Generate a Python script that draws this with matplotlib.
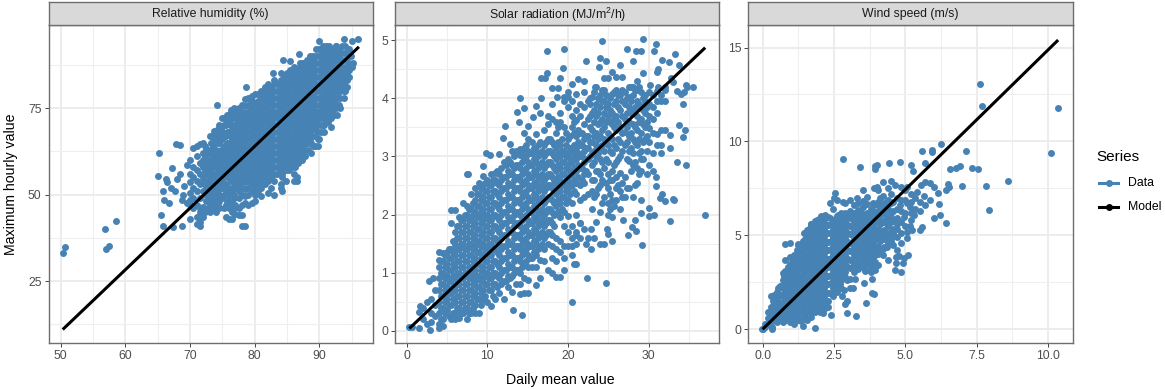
import matplotlib
matplotlib.use("Agg")
import matplotlib.pyplot as plt
from matplotlib.lines import Line2D

plt.rcParams['font.family'] = ['Liberation Sans', 'DejaVu Sans']
plt.rcParams['mathtext.fontset'] = 'custom'
plt.rcParams['mathtext.rm'] = 'Liberation Sans'
plt.rcParams['mathtext.default'] = 'regular'

W, H = 1165, 389
BLUE = '#4682B4'

panel_titles = ['Relative humidity (%)', 'Solar radiation (MJ/m$^{2}$/h)', 'Wind speed (m/s)']
series_names = ['Data', 'Model']

# ---------- Relative humidity: isolated points + columns (x, ys)
rh_points = [(50.3,33),(50.6,34.7),(56.8,40),(57,34.2),(57.4,35),(58.5,42.5),(65.2,62),(65,55.4),(65.5,44),
(65.8,41),(65.8,51),(66,48.5),(66.7,47.5),(66.2,54.5),(66.5,53.7),(67,52),(67.2,57.8),(67.3,40.5),(67.7,51),
(67.8,64.5),(68.5,64.3),(68,54.5),(68.5,56),(68.8,41),(68.8,48.5),(69,52.5),(69.5,58.5),(69.5,47.5),(68.9,50),
(74.1,76),(78.6,81),(84.3,89),(85.5,88.7),(81.5,80),(82.8,85),(83,83),(89.9,94.5),(93.8,95),(95,94.5),(96,95),
(94.9,90),(95.2,88),(95.1,87),(92.5,93),(91,93),(86.9,90.5),(87.5,88)]
rh_col_x = [70,70.5,71,71.5,72,72.5,73,73.5,74,74.5,75,75.5,76,76.5,77,77.5,78,78.5,79,79.5,80,80.5,81,81.5,
82,82.5,83,83.5,84,84.5,85,85.5,86,86.5,87,87.5,88,88.5,89,89.5,90,90.5,91,91.5,92,92.5,93,93.5,94,94.5]
rh_col_y = [
[43,47,48.5,50.5,53.5,56,60],[46,49,52,55,58,63.5],[41.5,43.5,47,51,54,57,61,64],[41,42,45,46,49,53,56,59,64.5],
[43.5,46.5,51,54.5,58,60,62,65],[48,50,52,56,59.5,61.5,63],[45,47,49,53,55,57,60,62,67],[46,48,51,54,58,61,64,67],
[45,49,52,55,58,60,63,66,68],[46,48,50,53,56,59,61,65,67,70],[49,52,54,57,60,63,66,68,72],[43.5,47,51,53,56,59,62,64,67,70],
[43,46,50,52,55,58,61,63,65,68,71,73],[43,45,48,51,54,57,60,62,64,66,69,72,74],[44.5,47,52,54,56,58,60,62,64,66,68,70,72,74],
[44,46,49,51,53,55,57,59,61,63,65,67,69,71,73,75],[41,44,47,50,52,54,56,58,60,62,64,66,68,70,72,74,76],
[41,47.5,49.5,51.5,53.5,55.5,57.5,59.5,61.5,63.5,65.5,67.5,69.5,71.5,73.5,75.5,77.5],
[47,50,52,54,56,58,60,62,64,66,68,70,72,74,76,78],[47.5,51,53,55,57,59,61,63,65,67,69,71,73,75,77,78.5],
[48,50,52,54,56,58,60,62,64,66,68,70,72,74,76,79],[51,53,55,57,59,61,63,65,67,69,71,73,75,77,79],
[49.5,52,54,56,58,60,62,64,66,68,70,72,74,76,78,80],[53,55,57,59,61,63,65,67,69,71,73,75,77,79,81],
[50.5,54,56,58,60,62,64,66,68,70,72,74,76,78,80,82],[52,55,57,59,61,63,65,67,69,71,73,75,77,79,81],
[50,54,56,58,60,62,64,66,68,70,72,74,76,78,80,82],[56,58,60,62,64,66,68,70,72,74,76,78,80,82],
[52,53,57,59,61,63,65,67,69,71,73,75,77,79,81,83,85],[57,60,62,64,66,68,70,72,74,76,78,80,82,84],
[58,59,61,63,65,67,69,71,73,75,77,79,81,83,85],[60,62,64,66,68,70,72,74,76,78,80,82,84,86],
[54,56,60,63,65,67,69,71,73,75,77,79,81,83,85,87],[54,55,61,64,66,68,70,72,74,76,78,80,82,84,86],
[63,65,67,69,71,73,75,77,79,81,83,85,87,88],[63,66,68,70,72,74,76,78,80,82,84,86,88],
[65,67,69,71,73,75,77,79,81,83,85,87,89],[66,68,70,72,74,76,78,80,82,84,86,88,90],
[64,69,71,73,75,77,79,81,83,85,87,89,90],[71,72,74,76,78,80,82,84,86,88,90,92],
[66,72,74,76,78,80,82,84,86,88,90,92],[70,75,77,79,81,83,85,87,89,91,93],
[71,74,76,78,80,82,84,86,88,90,92],[72,77,79,81,83,85,87,89,91,93],
[74,78,80,82,84,86,88,90,92],[75,79,81,83,85,87,89,91,93],
[76,80,82,84,86,88,90,92],[81,83,85,87,89,91,93],[80,83,85,87,89,91,93],[84,86,88,90,92]]
# second reading of the humidity cloud's lower-left and lower-right parts
rh_fill_x = [72.25,72.75,73.25,73.75,74.25,74.75,75.25,75.75,76.25,76.75,84.25,84.75,85.25,85.75,86.25,86.75,87.25,87.75,88.25,88.75,
89.25,89.75,90.25,90.75,91.25,91.75,92.25,92.75,93.25,93.75,94.25]
rh_fill_y = [
[45,53,57,61,64],[46,51,54,58,63],[50,52,56,59,63,65],[47,50,53,56,60,63,66,68.5],[47,51,54,57,59,62,65,67,69],[49,52,55,58,60,63,66,69],
[46,50,53,56,58,61,64,67,70,72],[48,52,55,57,60,63,65,68,71,73],[47,49,51,54,56,59,62,64,67,70,72,74.5],[46,49,50,53,55,57,59,61,63,65,67,70,73,75],
[51,55,56,58,60,62],[54,57,59,61,63],[57,58.5,60.5,62.5],[58,59,61,63,65],[58,60,62,64,66],[59,61,63,65,67],[60,62,64,66,68],[61,63,65,67,69],
[63,65,67,69],[62,65,67,69,71],[64,67,69,71,73],[64,66,68,70,72,74],[68,70,72,74,76],[68,70,72,74,76,78],[71,73,75,77,79],[69.5,72,74,76,78,80],
[73,75,77,79],[73,76,78,80],[75,78,80,82],[78,80,82,84],[81,83,85]]
rh_model_x = [50.3, 96.1]
rh_model_y = [11.0, 92.7]

# ---------- Solar radiation
sr_points = [(20.5,.5),(24.7,.83),(22.4,.9),(13.2,.36),(14.3,.27),(37,2),(32.7,1.88),(29.2,1.48),(27.4,1.64),(25.4,1.55),
(29.3,5.02),(24.2,4.98),(30.9,4.93),(17.4,4.82),(19.5,4.85),(27.3,4.85),(28.4,4.82),(29.1,4.82),(30.6,4.81),(33.2,4.76),
(24,4.7),(24.7,4.64),(22.2,4.64),(28,4.64),(31.6,4.66),(32.5,4.63),(33.7,4.57),(26.4,4.57),(19.4,4.52),(17.4,4.44),(29.3,4.44),
(31.2,4.5),(31,4.46),(35.5,4.2),(34.6,4.23),(34.2,3.9),(33.8,3.54),(34.5,3.45),(34.2,3.33),(34.6,2.86),(33.5,2.9),(32.7,3.15),
(32.6,3.37),(33.1,2.25),(33,2.27),(32,2.24),(31.6,2.36),(31.4,2.28),(30.9,2.65),(30.9,2.49),(30,2.12),(30.7,2),(30,1.98),(29,2.02),
(28.3,1.9),(27.9,1.79),(28.4,1.72),(26.8,1.9),(0.3,.07),(0.7,.07),(1.5,.05),(1.5,.33),(1.6,.43),(2,.2),(2,.4),(2.5,.12),(2.5,.5),
(2.9,.02),(3,.15),(3,.3),(3,.55),(2.8,.85),(3.5,.25),(3.5,.45),(3.5,.7),(3.3,.9),(14,4),(14.5,3.83),(13.7,3.77),(13.9,3.6),(12.2,3.52),
(11.9,3.32),(12.8,3.22),(9.8,3.05),(10.3,3.02),(9.5,2.83),(7.6,2.7),(16.7,4.34),(17.2,4.34),(16.6,4),(16,3.86),(15.7,3.68),(16.5,3.74),
(18,4.17),(18.7,4.17),(18.6,4.03),(19,4.34),(19.5,4.03),(20,4.1),(20.5,4.25),(21.2,4.33),(22,4.3),(23.4,4.2),(23.8,4.53),(24.5,4.35),
(25,4.35),(25.5,4.45),(26,4.37),(26.7,4.36),(28.5,4.3),(31.2,4.2),(30.2,4.23),(32,4.2),(32.8,4.35),(33,4.28),(33.5,4.12),(34,4.08),(34.4,4.1),(34.8,4.2),
(22.2,1.5),(22.8,1.4),(23.2,1.6),(24,1.5),(24.5,1.5),(24.8,1.75),(25,1.66),(23.5,1.87),(22.8,1.75),(21.5,1.85),(21,1.65),(20.5,1.45),(20.8,1.15),(21,1.15)]
sr_col_x = [4,4.5,5,5.5,6,6.5,7,7.5,8,8.5,9,9.5,10,10.5,11,11.5,12,12.5,13,13.5,14,14.5,15,15.5,16,16.5,17,17.5,18,18.5,19,19.5,20,20.5,21,21.5,22,22.5,23,23.5,24,24.5,25,25.5,26,26.5,27,27.5,28,28.5,29,29.5,30,30.5,31,31.5,32]
sr_col_y = [
[.05,.12,.3,.5,.7,.9,1.1,1.22,1.35],[.08,.2,.4,.6,.8,1,1.2,1.33],[.35,.55,.75,.95,1.15,1.35],[.2,.45,.65,.85,1.05,1.25,1.4,1.85,2.08],
[.2,.3,.5,.7,.9,1.1,1.3,1.5,1.7,2.08],[.22,.4,.6,.8,1,1.2,1.4,1.6,1.8,1.95],[.3,.5,.7,.9,1.1,1.3,1.5,1.7,1.9,2.2],
[.2,.4,.6,.8,1,1.2,1.4,1.6,1.8,2,2.15,2.7],[.3,.5,.7,.9,1.1,1.3,1.5,1.7,1.9,2.1,2.35],[.3,.45,.65,.85,1.05,1.25,1.45,1.65,1.85,2.05,2.25,2.45],
[.3,.55,.75,.95,1.15,1.35,1.55,1.75,1.95,2.15,2.35,2.55],[.55,.7,.9,1.1,1.3,1.5,1.7,1.9,2.1,2.3,2.5,2.67],
[.5,.8,1,1.2,1.4,1.6,1.8,2,2.2,2.4,2.6],[.43,.7,.9,1.1,1.3,1.5,1.7,1.9,2.1,2.3,2.5,2.7],[.55,.8,1,1.2,1.4,1.6,1.8,2,2.2,2.4,2.6,2.72],
[.65,.9,1.1,1.3,1.5,1.7,1.9,2.1,2.3,2.5,2.7,3.04],[.55,.85,1.05,1.25,1.45,1.65,1.85,2.05,2.25,2.45,2.65,2.9],
[.75,.95,1.15,1.35,1.55,1.75,1.95,2.15,2.35,2.55,2.75,2.95],[.67,.95,1.1,1.3,1.5,1.7,1.9,2.1,2.3,2.5,2.7,2.85,3.1],
[.8,1.05,1.25,1.45,1.65,1.85,2.05,2.25,2.45,2.65,2.85,3.1],[.63,.8,1,1.2,1.4,1.6,1.8,2,2.2,2.4,2.6,2.8,3.02,3.13],
[.65,.9,1.15,1.35,1.55,1.75,1.95,2.15,2.35,2.55,2.75,2.95,3.15,3.4],[.65,.88,1.1,1.3,1.5,1.7,1.9,2.1,2.3,2.5,2.7,2.9,3.1,3.3,3.52],
[1.1,1.25,1.45,1.65,1.85,2.05,2.25,2.45,2.65,2.85,3.05,3.25],[.78,1.1,1.3,1.5,1.7,1.9,2.1,2.3,2.5,2.7,2.9,3.1,3.38],
[.9,1.22,1.45,1.65,1.85,2.05,2.25,2.45,2.65,2.85,3.05,3.25],[1.2,1.4,1.6,1.8,2,2.2,2.4,2.6,2.8,3,3.2,3.45],
[1.05,1.5,1.7,1.9,2.1,2.3,2.5,2.7,2.9,3.1,3.3,3.55,3.7],[1,1.25,1.45,1.65,1.85,2.05,2.25,2.45,2.65,2.85,3.05,3.25,3.65,3.9],
[.92,1.2,1.4,1.6,2.15,2.35,2.55,2.75,2.95,3.15,3.4,3.6],[.92,1.35,1.55,1.95,2.2,2.4,2.6,2.8,3,3.2,3.6,3.75],
[1.05,1.25,1.45,1.8,2.05,2.3,2.5,2.7,2.9,3.1,3.5,3.95],[1.45,1.7,1.98,2.25,2.45,2.65,2.85,3.05,3.3,3.85,4.02],
[1.3,1.6,1.8,2.2,2.5,2.7,2.9,3.1,3.5,3.7,3.95],[1.5,1.7,2,2.35,2.55,2.75,2.95,3.15,3.35,3.62,3.8,4.08],
[1.6,1.85,2.25,2.5,2.8,3,3.2,3.4,3.7,3.9],[1.75,2.3,2.55,2.7,2.9,3.1,3.3,3.55,3.85,4.1],
[1.6,2.35,2.7,2.95,3.15,3.35,3.65,3.95],[2.1,2.4,2.6,2.85,3.05,3.25,3.45,3.75,4.02],[2.35,2.75,3,3.2,3.4,3.7,3.9,4.2],
[2.05,2.5,2.7,2.95,3.15,3.35,3.6,3.85,4.05],[2.3,2.8,3.1,3.3,3.5,3.75,3.95,4.15],[2,2.2,2.45,2.7,2.9,3.2,3.4,3.7,3.9],
[1.95,2.25,2.6,2.75,3.05,3.3,3.55,3.75,4.07],[2.25,2.45,2.65,2.9,3.15,3.45,3.7,3.95,4.15],[2.1,2.4,2.72,3,3.25,3.5,3.8,4.05],
[2.3,2.65,3.2,3.42,3.65,3.9,4.1],[2.45,2.92,3.1,3.35,3.6,3.85,4.02,4.2],[2.3,2.85,3.05,3.3,3.55,3.8,4.05,4.2],
[2.55,2.8,3.2,3.45,3.7,3.95,4.15],[2.25,2.75,2.95,3.1,3.4,3.65,3.85,4.1],[3.3,3.5,3.75,3.95,4.05],
[2.85,3.25,3.48,3.7,3.9,4.1],[2.75,3.05,3.4,3.65,3.85,4.05],[3.2,3.38,3.75,3.95,4.12],[3.05,3.2,3.45,3.95,4.05],[3.45,3.95,4.15]]
# second reading of the dense solar core, between the columns above
sr_fill_x = [4.25,4.75,5.25,5.75,6.25,6.75,7.25,7.75,8.25,8.75,9.25,9.75,10.25,10.75,11.25,11.75,12.25,12.75,13.25,13.75,14.25,14.75,15.25,15.75,16.25,16.75,17.25,17.75,18.25,18.75,19.25,19.75,20.25,20.75,21.25,21.75,22.25,
22.75,23.25,23.75,24.25,24.75,25.25,25.75,26.25,26.75,27.25,27.75,28.25,28.75,29.25,29.75]
sr_fill_y = [
[.2,.4,.6,.8,1,1.2],[.3,.5,.7,.9,1.1,1.3],[.25,.45,.65,.85,1.05,1.25,1.4],[.3,.55,.75,.95,1.15,1.35,1.55],
[.4,.6,.8,1,1.2,1.4,1.6,1.8],[.3,.5,.7,.9,1.1,1.3,1.5,1.7,1.9],[.4,.6,.8,1,1.2,1.4,1.6,1.8,2],
[.3,.5,.7,.9,1.1,1.3,1.5,1.7,1.9,2.1],[.4,.6,.8,1,1.2,1.4,1.6,1.8,2,2.2],[.55,.75,.95,1.15,1.35,1.55,1.75,1.95,2.15,2.35],
[.45,.65,.85,1.05,1.25,1.45,1.65,1.85,2.05,2.25,2.45],[.6,.8,1,1.2,1.4,1.6,1.8,2,2.2,2.4,2.55],
[.7,.9,1.1,1.3,1.5,1.7,1.9,2.1,2.3,2.5],[.6,.8,1,1.2,1.4,1.6,1.8,2,2.2,2.4,2.6],[.75,.95,1.15,1.35,1.55,1.75,1.95,2.15,2.35,2.55,2.75],
[.8,1,1.2,1.4,1.6,1.8,2,2.2,2.4,2.6,2.8],[.85,1.05,1.25,1.45,1.65,1.85,2.05,2.25,2.45,2.65,2.85],
[.9,1.1,1.3,1.5,1.7,1.9,2.1,2.3,2.5,2.7,2.9],[1,1.2,1.4,1.6,1.8,2,2.2,2.4,2.6,2.8,3],[1.05,1.25,1.45,1.65,1.85,2.05,2.25,2.45,2.65,2.85,3.05],
[1.1,1.3,1.5,1.7,1.9,2.1,2.3,2.5,2.7,2.9,3.1],[1.2,1.4,1.6,1.8,2,2.2,2.4,2.6,2.8,3,3.2],[1.25,1.45,1.65,1.85,2.05,2.25,2.45,2.65,2.85,3.05],
[1.35,1.55,1.75,1.95,2.15,2.35,2.55,2.75,2.95,3.15],[1.4,1.6,1.8,2,2.2,2.4,2.6,2.8,3,3.2],[1.5,1.7,1.9,2.1,2.3,2.5,2.7,2.9,3.1],
[1.65,1.85,2.05,2.25,2.45,2.65,2.85,3.05,3.25],[1.7,1.9,2.1,2.3,2.5,2.7,2.9,3.1,3.3],[1.8,2,2.2,2.4,2.6,2.8,3,3.2],
[2.05,2.25,2.45,2.65,2.85,3.05,3.25,3.5],[2.1,2.3,2.5,2.7,2.9,3.1,3.3],[2.2,2.4,2.6,2.8,3,3.2,3.4],
[2.35,2.55,2.75,2.95,3.15,3.35],[2.4,2.6,2.8,3,3.2,3.4,3.6],[2.65,2.85,3.05,3.25,3.45],[2.6,2.8,3,3.2,3.4],[2.75,2.95,3.15,3.35],
[3,3.25,3.5,3.7,3.9,4],[2.3,2.6,2.9,3.1,3.35,3.6,3.8,4.1],[2.45,2.75,3.05,3.3,3.55,3.75,4],[2.2,2.6,2.9,3.2,3.45,3.65,3.95,4.15],
[2.55,2.95,3.25,3.6,3.85,4.05],[2.1,2.35,2.6,3.1,3.35,3.6,3.8,4],[2.15,2.85,3.2,3.5,3.65,3.9,4.1],[2.5,2.95,3.3,3.6,3.85,4.05],
[2.3,2.55,3.1,3.4,3.7,3.95,4.15],[2.45,2.95,3.25,3.5,3.75,4],[2.75,3.15,3.4,3.75,3.95,4.2],[2.5,2.9,3.25,3.5,3.85,4.15],
[2.7,3.05,3.3,3.6,3.9,4.2],[2.95,3.25,3.55,3.8,4],[2.7,3.1,3.35,3.6,3.85]]
sr_model_x = [0.33, 37.0]
sr_model_y = [0.04, 4.87]

# ---------- Wind speed
ws_points = [(7.6,13.04),(7.69,11.9),(10.35,11.78),(10.1,9.4),(6.25,9.88),(7.14,9.5),(5.58,9.48),(5.94,9.54),(5.92,9.43),(2.82,9.08),
(3.42,8.65),(3.92,8.53),(3.94,8.67),(3.99,8.72),(4.42,8.83),(4.81,8.9),(5.19,8.76),(5.68,8.83),(5.26,8.44),(6.55,8.54),(6.79,8.58),
(6.91,8.7),(7.33,8.61),(7.53,8.54),(6.5,7.73),(6.53,7.6),(6.97,7.64),(7.84,7.64),(8.59,7.87),(7.93,6.36),(6.44,5.68),(6.23,6.07),(6.01,5.93),
(6.18,6.68),(6.41,7.39),(6.15,7.28),(1.83,.07),(2.4,.78),(2.1,.85),(2.94,.89),(3.28,.73),(3.62,1.39),(2.88,1.33),(2.94,1.51),(2.77,1.78),
(3.82,1.92),(3.89,1.88),(3.54,2.45),(3.84,2.7),(2.97,2.63),(4.63,3.16),(4.66,3.52),(4.38,3.69),(4.94,3.78),(5.08,3.98),(4.78,3.9),(4.66,3.85),
(5.57,5.42),(5.53,5.29),(5.25,5.26),(5.04,5.2),(.32,0),(0,0),(.32,.14),(-.02,0),(2.55,7.24),(2.5,7),(2.6,6.9),(2.35,6.7),(2.45,6.4),
(2.8,6.8),(3.05,6.9),(3.3,7),(3.35,6.7),(3.5,7.4),(3.65,7.05),(3.9,7.5),(3.85,6.75),(4,7.55),(4.05,7.4),(4.2,7.85),(4.4,7.5),(4.5,7.9),(4.65,7.7),
(4.85,7.55),(5,7.4),(5.05,7.6),(5.2,7.2),(5.4,7.3),(5.55,7.7),(5.7,7.85),(5.85,7.8),(6,7.6),(5.65,7.1),(5.85,6.9),(5.7,6.6),(5.5,6.8),
(.8,4.55),(.95,4.6),(1.25,4.55),(1.45,5.1),(1.55,5.3),(1.7,5.6),(1.9,5.8),(2.05,6.05),(2.2,6.1),(2.35,5.95),(2.65,6.1),
(4.85,3.05),(4.9,3.55),(4.7,4.2),(4.85,4.6),(5.05,4.85),(5.15,5.5),(5.2,5.8),(5.3,6.1),(5.5,6.3),(5.15,6.5),(5.05,6.7),(4.8,6.6),(4.95,6),(4.7,5.6),(4.55,5.1),
(4.35,4.4),(4.2,3.95),(4.05,3.4),(3.9,3.5),(3.8,3.05),(3.95,3.15),(3.6,3.1),(3.25,2.7),(3.15,2.2),(3.05,2.2),(2.85,2.1),(2.65,2.15)]
ws_col_x = [.1,.2,.3,.4,.5,.6,.7,.8,.95,1.1,1.25,1.4,1.55,1.7,1.85,2,2.15,2.3,2.45,2.6,2.75,2.9,3.05,3.2,3.35,3.5,3.65,3.8,3.95,4.1,4.25,4.4,4.55]
ws_col_y = [
[.1,.3],[.3,.6,.9],[.4,.8,1.2,1.75],[.5,.95,1.4,1.8],[.4,.8,1.2,1.6,2],[.5,.95,1.4,1.85,2.3],[.4,.85,1.3,1.75,2.2,2.6,3],
[.5,.95,1.4,1.85,2.3,2.75,3.1,3.7],[.4,.85,1.3,1.75,2.2,2.65,3.1,3.5,3.85],[.3,.8,1.25,1.7,2.15,2.6,3.05,3.5,3.95],
[.5,.95,1.4,1.85,2.3,2.75,3.2,3.65,4.1,4.5],[.2,.7,1.15,1.6,2.05,2.5,2.95,3.4,3.85,4.3,4.7],[.5,.95,1.4,1.85,2.3,2.75,3.2,3.65,4.1,4.55,5],
[.65,1.1,1.55,2,2.45,2.9,3.35,3.8,4.25,4.7,5.2,5.6],[.9,1.3,1.75,2.2,2.65,3.1,3.55,4,4.45,4.9,5.35,5.75],
[.9,1.45,1.9,2.35,2.8,3.25,3.7,4.15,4.6,5.05,5.5,5.95],[1.1,1.3,1.75,2.2,2.65,3.1,3.55,4,4.45,4.9,5.35,5.8],
[1.2,1.5,1.95,2.4,2.85,3.3,3.75,4.2,4.65,5.1,5.55,6],[1.75,2.2,2.65,3.1,3.55,4,4.45,4.9,5.35,5.8],
[2,2.45,2.9,3.35,3.8,4.25,4.7,5.15,5.6,6.05],[2.2,2.65,3.1,3.55,4,4.45,4.9,5.35,5.8,6.2],
[2.8,3.05,3.5,3.95,4.4,4.85,5.3,5.75,6.2,6.75],[2.7,3.25,3.7,4.15,4.6,5.05,5.5,5.95,6.3],[3.05,3.5,3.95,4.4,4.85,5.3,5.75,6.2,6.6],
[3.2,3.65,4.1,4.55,5,5.45,5.9,6.35],[3.3,3.75,4.2,4.65,5.1,5.55,6,6.5,6.85],[3.5,3.95,4.4,4.85,5.3,5.75,6.2,6.65],
[3.3,3.7,4.15,4.6,5.05,5.5,5.95,6.4],[3.6,4,4.45,4.9,5.35,5.8,6.25],[4.2,4.7,5.15,5.6,6.05,6.5,7],[4.4,4.9,5.3,5.75,6.2,6.7],
[4.6,5,5.5,5.95,6.4,6.9],[4.5,4.95,5.35,5.85,6.3,6.8]]
# second reading of the dense wind core, between the columns above
ws_fill_x = [.35,.55,.75,.9,1.05,1.2,1.35,1.5,1.65,1.8,1.95,2.1,2.25,2.4,2.55,2.7,2.85,3,3.15,3.3,3.45,3.6,
3.75,3.9,4.05,4.2,4.35,4.5,4.7,4.85,5.0,5.2,5.35]
ws_fill_y = [
[.7,1.1,1.5],[.7,1.1,1.5,1.9,2.2],[.65,1.05,1.5,1.95,2.4,2.85],[.65,1.1,1.55,2,2.45,2.9,3.3],[.6,1.05,1.5,1.95,2.4,2.85,3.3,3.7],
[.7,1.15,1.6,2.05,2.5,2.95,3.4,3.85,4.2],[.45,.95,1.4,1.85,2.3,2.75,3.2,3.65,4.1,4.5],[.7,1.2,1.65,2.1,2.55,3,3.45,3.9,4.35,4.8],
[.9,1.35,1.8,2.25,2.7,3.15,3.6,4.05,4.5,4.95,5.4],[1.1,1.5,1.95,2.4,2.85,3.3,3.75,4.2,4.65,5.1,5.55],[1.2,1.7,2.15,2.6,3.05,3.5,3.95,4.4,4.85,5.3,5.75],
[1.3,1.65,2.1,2.55,3,3.45,3.9,4.35,4.8,5.25,5.7],[1.5,1.95,2.4,2.85,3.3,3.75,4.2,4.65,5.1,5.55],[1.95,2.45,2.9,3.35,3.8,4.25,4.7,5.15,5.6],
[2.2,2.65,3.1,3.55,4,4.45,4.9,5.35,5.8],[2.4,2.85,3.3,3.75,4.2,4.65,5.1,5.55,6],[2.9,3.3,3.75,4.2,4.65,5.1,5.55,6],
[3.3,3.75,4.2,4.65,5.1,5.55,6],[3.3,3.75,4.2,4.65,5.1,5.55,6],[3.45,3.9,4.35,4.8,5.25,5.7,6.15],[3.55,4,4.45,4.9,5.35,5.8,6.25],[3.75,4.2,4.65,5.1,5.55,6],
[3.2,3.9,4.35,4.8,5.25,5.7,6.15],[3.9,4.3,4.75,5.2,5.65,6.1,6.6],[4,4.45,4.9,5.35,5.8,6.3,6.8],[4.3,4.8,5.25,5.7,6.2,6.6,7.1],[4.75,5.15,5.6,6,6.5],
[4.7,5.2,5.7,6.2,6.7,7.2],[4.9,5.35,5.9,6.4,7],[5.1,5.7,6.3,6.9],[5.5,6.2,6.9],[6.2,6.8],[6.4,7]]
ws_model_x = [0.0, 10.35]
ws_model_y = [0.0, 15.4]


def px_axes(fig, l, t, r, b):
    return fig.add_axes([l / W, 1 - b / H, (r - l) / W, (b - t) / H])


def flatten(points, *col_pairs):
    xs = [p[0] for p in points]
    ys = [p[1] for p in points]
    for col_x, col_y in col_pairs:
        for cx, cy in zip(col_x, col_y):
            xs.extend([cx] * len(cy))
            ys.extend(cy)
    return xs, ys


panels = [
    dict(box=(48.5, 25, 372.5, 343), xlim=(48.1, 98.2), ylim=(7.1, 99),
         xt=[50, 60, 70, 80, 90], xl=['50', '60', '70', '80', '90'], xm=[55, 65, 75, 85, 95],
         yt=[25, 50, 75], yl=['25', '50', '75'], ym=[12.5, 37.5, 62.5, 87.5],
         data=flatten(rh_points, (rh_col_x, rh_col_y), (rh_fill_x, rh_fill_y)), model=(rh_model_x, rh_model_y)),
    dict(box=(395, 25, 719.3, 343), xlim=(-1.45, 38.75), ylim=(-0.21, 5.26),
         xt=[0, 10, 20, 30], xl=['0', '10', '20', '30'], xm=[5, 15, 25, 35],
         yt=[0, 1, 2, 3, 4, 5], yl=['0', '1', '2', '3', '4', '5'], ym=[.5, 1.5, 2.5, 3.5, 4.5],
         data=flatten(sr_points, (sr_col_x, sr_col_y), (sr_fill_x, sr_fill_y)), model=(sr_model_x, sr_model_y)),
    dict(box=(748.3, 25, 1072.7, 343), xlim=(-0.5, 10.86), ylim=(-0.73, 16.2),
         xt=[0, 2.5, 5, 7.5, 10], xl=['0.0', '2.5', '5.0', '7.5', '10.0'], xm=[1.25, 3.75, 6.25, 8.75],
         yt=[0, 5, 10, 15], yl=['0', '5', '10', '15'], ym=[2.5, 7.5, 12.5],
         data=flatten(ws_points, (ws_col_x, ws_col_y), (ws_fill_x, ws_fill_y)), model=(ws_model_x, ws_model_y)),
]

fig = plt.figure(figsize=(W / 100, H / 100), dpi=100, facecolor='white')
EDGE = '#6E6E6E'
MS = 5.0
for p, title in zip(panels, panel_titles):
    l, t, r, b = p['box']
    ax = px_axes(fig, l, t, r, b)
    ax.set_xlim(*p['xlim'])
    ax.set_ylim(*p['ylim'])
    ax.set_xticks(p['xt'], p['xl'])
    ax.set_yticks(p['yt'], p['yl'])
    ax.set_xticks(p['xm'], minor=True)
    ax.set_yticks(p['ym'], minor=True)
    ax.set_axisbelow(True)
    ax.grid(True, which='major', color='#EBEBEB', lw=1.3)
    ax.grid(True, which='minor', color='#EFEFEF', lw=0.8)
    ax.tick_params(which='minor', length=0)
    ax.tick_params(which='major', length=2.6, width=0.7, color='#444444', labelcolor='#4D4D4D',
                   labelsize=8.8, pad=2.4)
    for s in ax.spines.values():
        s.set_color(EDGE)
        s.set_linewidth(1.0)
    xs, ys = p['data']
    ax.plot(xs, ys, ls='none', marker='o', ms=MS, mfc=BLUE, mec=BLUE, mew=0, clip_on=True, zorder=3)
    ax.plot(*p['model'], color='black', lw=2.2, zorder=4, solid_capstyle='butt')

    st = px_axes(fig, l, 2, r, 25)
    st.set_facecolor('#D9D9D9')
    st.set_xticks([])
    st.set_yticks([])
    for s in st.spines.values():
        s.set_color(EDGE)
        s.set_linewidth(1.0)
    st.text(0.5, 0.46, title, transform=st.transAxes, ha='center', va='center', fontsize=8.8, color='#1A1A1A')

fig.text(11.5 / W, 1 - 184 / H, 'Maximum hourly value', rotation=90, ha='center', va='center', fontsize=10.2, color='black')
fig.text(560 / W, 1 - 380 / H, 'Daily mean value', ha='center', va='center', fontsize=10.2, color='black')

fig.text(1096 / W, 1 - 157 / H, 'Series', ha='left', va='center', fontsize=11, color='black')
key_colors = [BLUE, 'black']
key_ys = [183, 207]
for name, col, ky in zip(series_names, key_colors, key_ys):
    fig.add_artist(Line2D([1099 / W, 1118 / W], [1 - ky / H] * 2, color=col, lw=2.2, transform=fig.transFigure))
    fig.add_artist(Line2D([1108.5 / W], [1 - ky / H], color=col, marker='o', ms=MS, mew=0, ls='none',
                          transform=fig.transFigure))
    fig.text(1128 / W, 1 - ky / H, name, ha='left', va='center', fontsize=8.8, color='black')

fig.savefig('out.png', dpi=100)
